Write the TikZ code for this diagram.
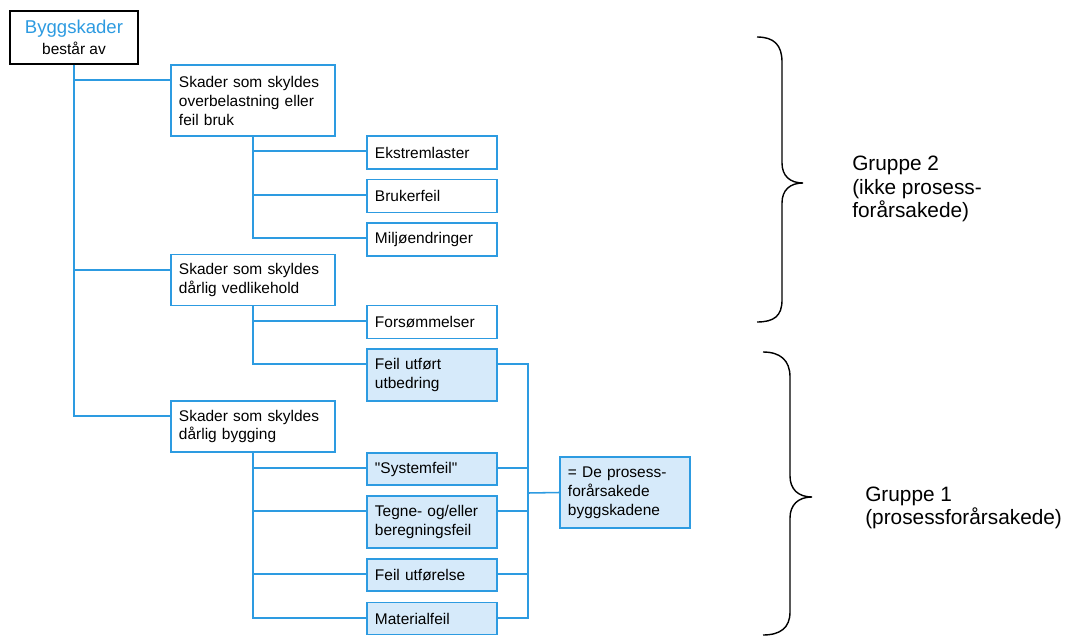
\documentclass[tikz,border=0pt]{standalone}
\usepackage{fontspec}
\setmainfont[Ligatures=TeXOff]{Liberation Sans}

\definecolor{linjeblaa}{RGB}{45,155,225}
\definecolor{fyllblaa}{RGB}{214,234,250}

\tikzset{
	boks/.style={rectangle, draw=linjeblaa, line width=1.1pt, align=left,
		inner xsep=0.2cm, inner ysep=0pt, font=\fontsize{11}{13.5}\selectfont},
	stor/.style={boks, text width=3.7cm},
	liten/.style={boks, text width=2.85cm},
	farget/.style={fill=fyllblaa},
	linje/.style={draw=linjeblaa, line width=1.1pt},
	klamme/.style={black, line width=1pt},
	gruppe/.style={align=left, inner sep=0pt, anchor=west, font=\fontsize{14.8}{16.5}\selectfont}
}

\begin{document}
\begin{tikzpicture}[x=0.025cm,y=-0.025cm]
			% Background / frame of the page
			\fill[white] (0,0) rectangle (1070,637);
			
			% Top box
			\node[draw, line width=1.1pt, minimum width=3.2cm, minimum height=1.325cm, align=center,
				font=\fontsize{11}{15}\selectfont] (rot) at (74,37.5)
				{{\color{linjeblaa}\fontsize{13.2}{15}\selectfont Byggskader}\\består av};
			
			% Main groups
			\node[stor, minimum height=1.775cm] (a) at (253,100.5) {Skader som skyldes\\overbelastning eller\\feil bruk};
			\node[stor, minimum height=1.275cm] (b) at (253,280) {Skader som skyldes\\dårlig vedlikehold};
			\node[stor, minimum height=1.275cm] (c) at (253,426.5) {Skader som skyldes\\dårlig bygging};
			
			% Sub boxes
			\node[liten, minimum height=0.825cm] (ek) at (432,152.5) {Ekstremlaster};
			\node[liten, minimum height=0.825cm] (br) at (432,196) {Brukerfeil};
			\node[liten, minimum height=0.825cm] (mi) at (432,239.5) {Miljøendringer};
			\node[liten, minimum height=0.825cm] (fo) at (432,322) {Forsømmelser};
			\node[liten, farget, minimum height=1.3cm] (fe) at (432,375) {Feil utført\\utbedring};
			\node[liten, farget, minimum height=0.8cm] (sy) at (432,469) {"Systemfeil"};
			\node[liten, farget, minimum height=1.3cm] (te) at (432,522) {Tegne- og/eller\\beregningsfeil};
			\node[liten, farget, minimum height=0.8cm] (fu) at (432,575) {Feil utførelse};
			\node[liten, farget, minimum height=0.8cm] (ma) at (432,618.5) {Materialfeil};
			
			% Result box
			\node[liten, farget, minimum height=1.775cm] (res) at (625,492.5)
				{= De prosess-\\forårsakede\\byggskadene};
			
			% Tree lines
			\foreach \g in {a,b,c}
				\draw[linje] (rot.south) |- ([yshift=-4mm]\g.north west);
			\foreach \k in {ek,br,mi}
				\draw[linje] (a.south) |- ([yshift=-4mm]\k.north west);
			\foreach \k in {fo,fe}
				\draw[linje] (b.south) |- ([yshift=-4mm]\k.north west);
			\foreach \k in {sy,te,fu,ma}
				\draw[linje] (c.south) |- ([yshift=-4mm]\k.north west);
			
			% Collecting line to the result box
			\coordinate (samle) at (528,493);
			\foreach \k in {fe,sy,te,fu,ma}
				\draw[linje] ([yshift=-4mm]\k.north east) -| (samle);
			\draw[linje] (samle) -- (res.west);
			
			% Braces
			\draw[klamme] (757,37) .. controls (774,37) and (782,45) .. (782,62) -- (782,163)
				.. controls (782,176) and (790,183) .. (803,183)
				.. controls (790,183) and (782,190) .. (782,203) -- (782,300)
				.. controls (782,316) and (774,322) .. (757,322);
			\draw[klamme] (763,352) .. controls (780,352) and (790,360) .. (790,377) -- (790,476)
				.. controls (790,489) and (798,497) .. (812,497)
				.. controls (798,497) and (790,505) .. (790,518) -- (790,612)
				.. controls (790,628) and (780,635) .. (763,635);
			
			% Labels
			\node[gruppe] (g2) at (852,189) {Gruppe 2\\(ikke prosess-\\forårsakede)};
			\node[gruppe] (g1) at (865,508) {Gruppe 1\\(prosessforårsakede)};
		\end{tikzpicture}
\end{document}
